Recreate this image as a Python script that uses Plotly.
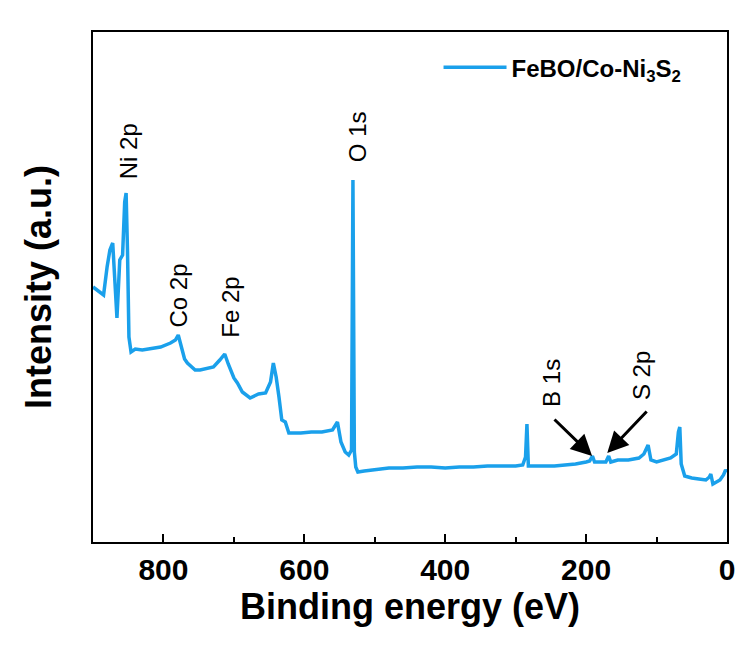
import plotly.graph_objects as go

# Binding energy (eV) and intensity (a.u.)
energy = [900, 895, 885, 880, 876, 872, 869, 866, 862, 858, 855, 853, 851, 849, 846,
          840, 830, 815, 804, 790, 783, 779, 776, 770, 766, 755, 748, 738, 729, 720,
          713, 708, 700, 695, 688, 677, 665, 655, 648, 644, 640, 636, 632, 627, 622,
          615, 605, 590, 575, 560, 553, 548, 542, 537, 533, 531, 529, 527, 524, 515,
          500, 480, 460, 440, 420, 400, 380, 360, 340, 320, 300, 290, 286, 284, 282,
          275, 260, 245, 230, 215, 200, 195, 191, 188, 180, 172, 168, 165, 155, 140,
          125, 118, 112, 108, 100, 90, 80, 72, 69, 67, 65, 60, 50, 40, 30,
          25, 23, 20, 15, 10, 5, 2, 0]
intensity = [255, 252, 247, 275, 292, 299, 260, 224, 282, 287, 340, 349, 290, 205, 190,
             193, 192, 194, 195, 199, 202, 207, 198, 183, 179, 172, 172, 174, 175, 182,
             188, 178, 164, 159, 150, 144, 148, 149, 160, 179, 165, 145, 122, 120, 109,
             109, 109, 110, 110, 112, 120, 100, 90, 87, 92, 362, 90, 75, 70, 71,
             72, 74, 74, 75, 75, 74, 75, 75, 76, 76, 76, 77, 85, 118, 76,
             76, 76, 76, 77, 78, 80, 81, 86, 80, 80, 80, 86, 80, 82, 82,
             84, 88, 97, 82, 80, 82, 84, 88, 110, 115, 78, 66, 64, 63, 62,
             65, 68, 58, 60, 62, 67, 72, 70]

series_name = "FeBO/Co-Ni<sub>3</sub>S<sub>2</sub>"

# Peak labels: text, energy, intensity at label centre
peak_labels = ["Ni 2p", "O 1s", "Co 2p", "Fe 2p", "B 1s", "S 2p"]
label_x = [850, 525, 780, 706, 250, 122]
label_y = [391, 405, 246, 235, 159, 166]

# Arrows: head (x, y) and tail (x, y)
arrow_head_x = [191.5, 170]
arrow_head_y = [86, 89]
arrow_tail_x = [247, 112]
arrow_tail_y = [124, 132]

x_ticks = [800, 600, 400, 200, 0]

FONT = "Liberation Sans, Arial, sans-serif"
BLUE = "#1AA0EB"

fig = go.Figure()
fig.add_trace(go.Scatter(x=energy, y=intensity, mode="lines", name=series_name,
                         line=dict(color=BLUE, width=3.5)))

for t, x, y in zip(peak_labels, label_x, label_y):
    fig.add_annotation(x=x, y=y, xref="x", yref="y", text=t, showarrow=False,
                       textangle=-90, font=dict(family=FONT, size=24, color="black"),
                       xanchor="center", yanchor="middle")

for hx, hy, tx, ty in zip(arrow_head_x, arrow_head_y, arrow_tail_x, arrow_tail_y):
    fig.add_annotation(x=hx, y=hy, ax=tx, ay=ty, xref="x", yref="y", axref="x", ayref="y",
                       text="", showarrow=True, arrowhead=2, arrowsize=1.4,
                       arrowwidth=3, arrowcolor="black", standoff=0)

fig.update_layout(
    width=753, height=652,
    margin=dict(l=93, r=26, t=32, b=110),
    paper_bgcolor="white", plot_bgcolor="white",
    font=dict(family=FONT, color="black"),
    showlegend=True,
    legend=dict(x=0.545, y=0.93, xanchor="left", yanchor="middle",
                bgcolor="rgba(0,0,0,0)", itemwidth=63,
                font=dict(family=FONT, size=24, color="black", weight="bold")),
    xaxis=dict(range=[900, 0], tickvals=x_ticks, ticks="inside", ticklen=8, tickwidth=2,
               tickcolor="black", showline=True, linecolor="black", linewidth=2, mirror=True,
               showgrid=False, zeroline=False,
               tickfont=dict(family=FONT, size=30, color="black", weight="bold"),
               minor=dict(dtick=100, ticks="inside", ticklen=5, tickwidth=2, tickcolor="black"),
               title=dict(text="Binding energy (eV)", standoff=6,
                          font=dict(family=FONT, size=36, color="black", weight="bold"))),
    yaxis=dict(range=[0, 510], showticklabels=False, ticks="", showline=True,
               linecolor="black", linewidth=2, mirror=True, showgrid=False, zeroline=False,
               title=dict(text="Intensity (a.u.)", standoff=28,
                          font=dict(family=FONT, size=36, color="black", weight="bold"))),
)

fig.write_html("out.html")
